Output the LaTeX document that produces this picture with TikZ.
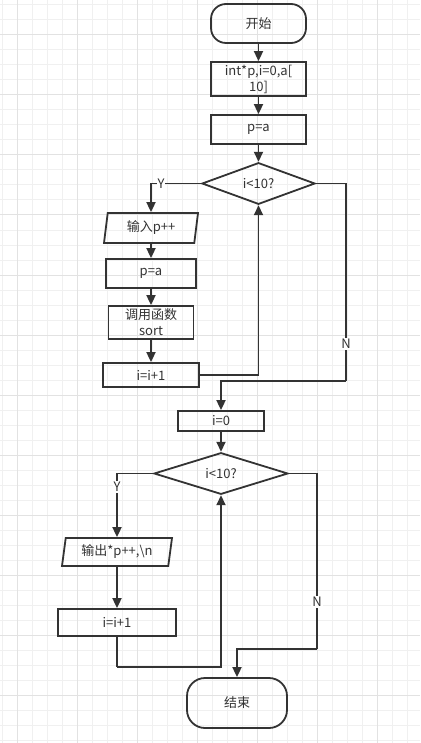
\documentclass[tikz,border=0pt]{standalone}
\usepackage{fontspec}
\setmainfont{Noto Sans CJK SC}
\usetikzlibrary{shapes.geometric,arrows.meta}
\definecolor{ink}{HTML}{333333}
\definecolor{gridminor}{HTML}{F0F0F0}
\definecolor{gridmajor}{HTML}{E2E2E2}
\tikzset{
  base/.style={draw=ink,line width=1.8pt,text=ink,inner sep=0pt,font=\fontsize{13}{16}\selectfont,align=center},
  procbox/.style={base,rectangle},
  termbox/.style={base,rectangle},
  decbox/.style={base,diamond},
  iobox/.style={base,trapezium,trapezium left angle=75,trapezium right angle=105,trapezium stretches body},
  conn/.style={draw=ink,line width=1.8pt,-{Triangle[length=10pt,width=9pt]}},
  plain/.style={draw=ink,line width=1.8pt},
  lab/.style={fill=white,text=ink,inner sep=1pt,font=\fontsize{13}{16}\selectfont}
}
\begin{document}
\begin{tikzpicture}[x=1pt,y=-1pt]
\useasboundingbox (0,0) rectangle (420,743);
\fill[white] (0,0) rectangle (420,743);
\foreach \x in {2,17,...,417} \draw[gridminor,line width=1pt] (\x,0) -- (\x,743);
\foreach \y in {5,20,...,740} \draw[gridminor,line width=1pt] (0,\y) -- (420,\y);
\foreach \x in {17,77,...,377} \draw[gridmajor,line width=1pt] (\x,0) -- (\x,743);
\foreach \y in {35,95,...,695} \draw[gridmajor,line width=1pt] (0,\y) -- (420,\y);

\node[termbox,rounded corners=15pt,minimum width=95pt,minimum height=39pt] (start) at (258.5,23.5) {开始};
\node[procbox,minimum width=95pt,minimum height=34pt] (init) at (258.5,79) {int*p,i=0,a[\\10]};
\node[procbox,minimum width=95pt,minimum height=29pt] (pa1) at (258.5,129.5) {p=a};
\node[decbox,minimum width=113pt,minimum height=41pt] (d1) at (258.5,183.5) {i<10?};
\node[iobox,minimum width=94pt,minimum height=30pt] (in1) at (151,228) {输入p++};
\node[procbox,minimum width=90pt,minimum height=29pt] (pa2) at (151,273.5) {p=a};
\node[procbox,minimum width=85pt,minimum height=33pt] (sort) at (151,322.5) {调用函数\\sort};
\node[procbox,minimum width=96pt,minimum height=24pt] (inc1) at (151,375) {i=i+1};
\node[procbox,minimum width=86pt,minimum height=20pt] (i0) at (221,421) {i=0};
\node[decbox,minimum width=134pt,minimum height=37pt] (d2) at (221,473.5) {i<10?};
\node[iobox,minimum width=110pt,minimum height=28pt] (out1) at (117,552) {输出*p++,\textbackslash n};
\node[procbox,minimum width=118pt,minimum height=27pt] (inc2) at (117,622.5) {i=i+1};
\node[termbox,rounded corners=18pt,minimum width=100pt,minimum height=50pt] (stop) at (237,703) {结束};

\coordinate (n1) at (346,381);
\coordinate (l2) at (117,667);
\coordinate (n2) at (317,649);

\draw[conn] (start) -- (init);
\draw[conn] (init) -- (pa1);
\draw[conn] (pa1) -- (d1);
\draw[conn] (d1.west) -| (in1.north);
\draw[conn] (in1) -- (pa2);
\draw[conn] (pa2) -- (sort);
\draw[conn] (sort) -- (inc1);
\draw[conn] (inc1.east) -| (d1.south);
\draw[plain] (d1.east) -| (n1);
\draw[conn] (n1) -| (i0.north);
\draw[conn] (i0) -- (d2);
\draw[conn] (d2.west) -| (out1.north);
\draw[conn] (out1) -- (inc2);
\draw[plain] (inc2.south) -- (l2);
\draw[conn] (l2) -| (d2.south);
\draw[plain] (d2.east) -| (n2);
\draw[conn] (n2) -| (stop.north);

\node[lab] (y1) at (161,184) {Y};
\node[lab] (nl1) at (346,344) {N};
\node[lab] (y2) at (117,487) {Y};
\node[lab] (nl2) at (317,602) {N};
\end{tikzpicture}
\end{document}
